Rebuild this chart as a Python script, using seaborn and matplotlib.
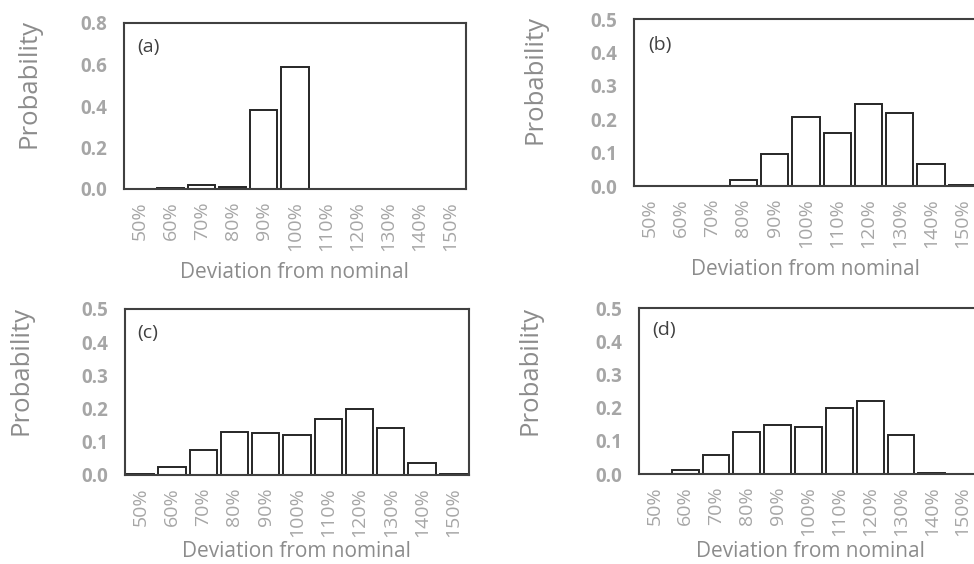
import matplotlib
matplotlib.use("Agg")
import matplotlib.pyplot as plt
import seaborn as sns
import pandas as pd

categories = ["50%", "60%", "70%", "80%", "90%", "100%", "110%", "120%", "130%", "140%", "150%"]
values_a = [0.0, 0.003, 0.017, 0.010, 0.38, 0.59, 0.0, 0.0, 0.0, 0.0, 0.0]
values_b = [0.0, 0.0, 0.0, 0.017, 0.096, 0.206, 0.158, 0.245, 0.219, 0.066, 0.004]
values_c = [0.003, 0.023, 0.074, 0.13, 0.127, 0.12, 0.168, 0.199, 0.142, 0.035, 0.003]
values_d = [0.0, 0.012, 0.056, 0.127, 0.149, 0.141, 0.198, 0.219, 0.118, 0.004, 0.0]
panel_labels = ["(a)", "(b)", "(c)", "(d)"]
ymax = [0.8, 0.5, 0.5, 0.5]
ystep = [0.2, 0.1, 0.1, 0.1]

sns.set_style("white")
plt.rcParams["font.family"] = ["Open Sans", "DejaVu Sans"]

fig = plt.figure(figsize=(9.74, 5.64), dpi=100)

positions = [
    [124 / 974, 1 - 189 / 564, 342 / 974, 166 / 564],
    [634 / 974, 1 - 186 / 564, 344 / 974, 166.7 / 564],
    [125 / 974, 1 - 475 / 564, 344 / 974, 166 / 564],
    [639 / 974, 1 - 474 / 564, 339 / 974, 165.7 / 564],
]
ylab_coords = [(-0.24, 0.636), (-0.25, 0.64), (-0.267, 0.63), (-0.284, 0.625)]
xlab_coords = [(0.497, -0.536), (0.497, -0.534), (0.497, -0.495), (0.507, -0.5)]
panel_pos = [(0.038, 0.855), (0.041, 0.846), (0.035, 0.855), (0.04, 0.87)]

all_values = [values_a, values_b, values_c, values_d]
tick_gray = "#a6a6a6"
label_gray = "#8c8c8c"

for i, vals in enumerate(all_values):
    ax = fig.add_axes(positions[i])
    df = pd.DataFrame({"cat": categories, "val": vals})
    sns.barplot(data=df, x="cat", y="val", order=categories, color="white",
                edgecolor="#262626", linewidth=1.4, width=0.87, ax=ax, saturation=1)
    ax.set_xlim(-0.5, len(categories) - 0.5)
    ax.set_ylim(0, ymax[i])
    n = int(round(ymax[i] / ystep[i]))
    ticks = [k * ystep[i] for k in range(n + 1)]
    ax.set_yticks(ticks)
    ax.set_yticklabels([f"{t:.1f}" for t in ticks], fontsize=13.5, fontweight="bold", color=tick_gray)
    ax.set_xticks(range(len(categories)))
    ax.set_xticklabels(categories, rotation=90, fontsize=14, color=tick_gray)
    ax.tick_params(axis="both", length=0)
    ax.tick_params(axis="y", pad=12)
    ax.tick_params(axis="x", pad=9)
    for s in ax.spines.values():
        s.set_visible(True)
        s.set_color("#404040")
        s.set_linewidth(1.5)
    ax.set_ylabel("Probability", fontsize=18.5, color=label_gray)
    ax.yaxis.set_label_coords(*ylab_coords[i])
    ax.set_xlabel("Deviation from nominal", fontsize=15, color=label_gray)
    ax.xaxis.label.set_va("baseline")
    ax.xaxis.set_label_coords(*xlab_coords[i])
    ax.text(panel_pos[i][0], panel_pos[i][1], panel_labels[i], transform=ax.transAxes,
            fontsize=14, color="#404040", ha="left", va="center")

fig.savefig("out.png", dpi=100)
